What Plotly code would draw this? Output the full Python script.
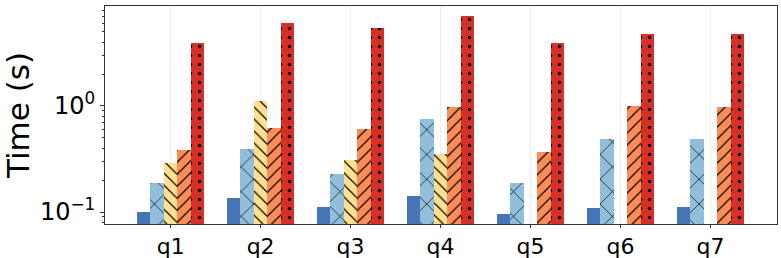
import plotly.graph_objects as go

categories = ["q1", "q2", "q3", "q4", "q5", "q6", "q7"]
series_names = ["A", "B", "C", "D", "E"]
s1 = [0.100, 0.136, 0.112, 0.142, 0.096, 0.110, 0.112]
s2 = [0.189, 0.393, 0.230, 0.754, 0.188, 0.492, 0.492]
s3 = [0.288, 1.12, 0.310, 0.352, None, None, None]
s4 = [0.385, 0.624, 0.607, 0.978, 0.368, 1.00, 0.978]
s5 = [3.95, 6.10, 5.44, 7.10, 3.93, 4.78, 4.78]
values = [s1, s2, s3, s4, s5]
colors = ["#4575b4", "#91bfdb", "#fee090", "#fc8d59", "#d73027"]
shapes = ["", "x", "\\", "/", "."]
pat_sizes = [8, 17.5, 8.5, 8.5, 9]
pat_solid = [0.1, 0.075, 0.14, 0.14, 0.12]
ytick_vals = [0.1, 1]
ytick_text = ["10<sup>\u22121</sup>", "10<sup>0</sup>"]

width = 0.15
offsets = [-0.3, -0.15, 0.0, 0.15, 0.3]
xs = list(range(len(categories)))

fig = go.Figure()
for name, vals, col, shp, off, ps, so in zip(series_names, values, colors, shapes,
                                              offsets, pat_sizes, pat_solid):
    pattern = dict(shape=shp, fgcolor="black", bgcolor=col, fillmode="overlay",
                   fgopacity=1, size=ps, solidity=so)
    fig.add_trace(go.Bar(
        x=[x + off for x in xs], y=vals, width=width, name=name,
        marker=dict(color=col, line=dict(width=0), pattern=pattern),
        showlegend=False,
    ))

fig.update_layout(
    width=781, height=258,
    margin=dict(l=105, r=4, t=6, b=34, autoexpand=False),
    paper_bgcolor="white", plot_bgcolor="white",
    font=dict(family="DejaVu Sans", color="black"),
    bargap=0, barmode="overlay",
)
fig.update_xaxes(
    range=[-0.73, 6.74], tickvals=xs, ticktext=categories,
    tickfont=dict(size=22), ticks="outside", ticklen=3, tickcolor="#333",
    showgrid=True, gridcolor="#eeeeee", gridwidth=1, automargin=False,
    showline=True, linecolor="#333", linewidth=1, mirror=True, zeroline=False,
)
fig.update_yaxes(
    type="log", range=[-1.113, 0.943],
    tickvals=ytick_vals, ticktext=ytick_text, tickfont=dict(size=24),
    ticks="outside", ticklen=4, tickcolor="#333", automargin=False,
    minor=dict(ticks="outside", ticklen=2, tickcolor="#333", showgrid=False,
               tickvals=[0.08, 0.09, 0.2, 0.3, 0.4, 0.5, 0.6, 0.7, 0.8, 0.9,
                         2, 3, 4, 5, 6, 7, 8]),
    showgrid=False, zeroline=False,
    showline=True, linecolor="#333", linewidth=1, mirror=True,
    title=dict(text="Time (s)", font=dict(size=31), standoff=6),
)

fig.write_html("out.html", config={"displayModeBar": False},
               post_script="document.body.style.margin='0px';")
